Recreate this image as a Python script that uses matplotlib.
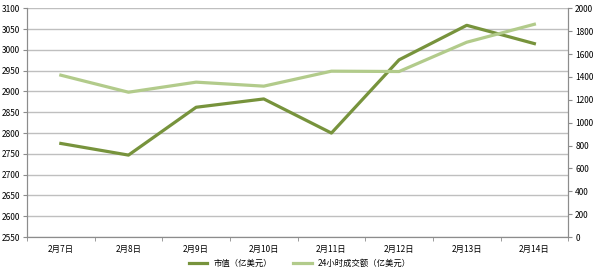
import matplotlib
matplotlib.use("Agg")
import matplotlib.pyplot as plt

plt.rcParams["font.family"] = ["Noto Sans CJK SC", "DejaVu Sans"]

dates = ["2月7日", "2月8日", "2月9日", "2月10日", "2月11日", "2月12日", "2月13日", "2月14日"]
market_cap = [2775, 2747, 2862, 2882, 2800, 2976, 3059, 3015]
volume_24h = [1415, 1266, 1354, 1319, 1450, 1447, 1703, 1860]

cap_label = "市值（亿美元）"
vol_label = "24小时成交额（亿美元）"

dark_green = "#77933C"
light_green = "#B2CB8B"
grid_grey = "#BFBFBF"
axis_grey = "#8C8C8C"

fig = plt.figure(figsize=(6, 2.75), dpi=100)
ax = fig.add_axes([0.045, 0.138, 0.902, 0.832])
ax2 = ax.twinx()

x = list(range(len(dates)))
ax.plot(x, market_cap, color=dark_green, linewidth=2.3, label=cap_label, zorder=3)
ax2.plot(x, volume_24h, color=light_green, linewidth=2.3, label=vol_label, zorder=3)

ax.set_xlim(-0.5, len(dates) - 0.5)
ax.set_ylim(2550, 3100)
ax.set_yticks(range(2550, 3101, 50))
ax2.set_ylim(0, 2000)
ax2.set_yticks(range(0, 2001, 200))

ax.set_xticks(x)
ax.set_xticklabels(dates)
ax.set_xticks([i - 0.5 for i in range(len(dates) + 1)], minor=True)
ax.tick_params(axis="x", which="major", length=0, pad=6, labelsize=6)
ax.tick_params(axis="x", which="minor", length=3, color=axis_grey)
ax.tick_params(axis="y", length=3, color=axis_grey, labelsize=6, pad=2)
ax2.tick_params(axis="y", length=3, color=axis_grey, labelsize=6, pad=2)

ax.grid(True, axis="y", color=grid_grey, linewidth=1)
ax.set_axisbelow(True)

for a in (ax, ax2):
    a.spines["top"].set_visible(False)
    for s in ("left", "right", "bottom"):
        a.spines[s].set_color(axis_grey)
        a.spines[s].set_linewidth(0.8)

lines = ax.get_lines() + ax2.get_lines()
fig.legend(lines, [l.get_label() for l in lines], loc="lower center",
           bbox_to_anchor=(0.5, 0.0), ncol=2, frameon=False, fontsize=6,
           handlelength=2.2, columnspacing=2.5)

fig.savefig("out.png", dpi=100)
